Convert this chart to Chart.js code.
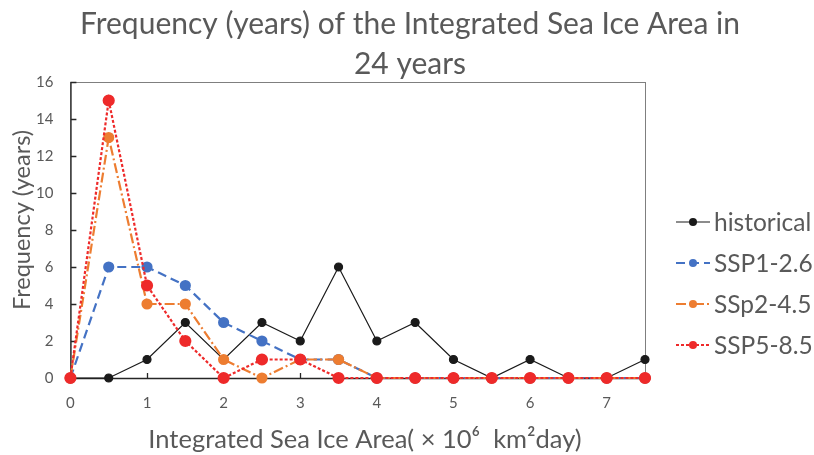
<!DOCTYPE html>
<html>
<head>
<meta charset="utf-8">
<script src="https://cdn.jsdelivr.net/npm/chart.js@4"></script>
<style>
  html, body { margin: 0; padding: 0; background: #fff; }
  #wrap { width: 814px; height: 455px; }
</style>
</head>
<body>
<div id="wrap"><canvas id="chart" width="814" height="455"></canvas></div>
<script>
// x positions (integrated sea ice area, x10^6 km2 day)
const areaBins = [0, 0.5, 1, 1.5, 2, 2.5, 3, 3.5, 4, 4.5, 5, 5.5, 6, 6.5, 7, 7.5];
const xTickValues = [0, 1, 2, 3, 4, 5, 6, 7];
const yTickValues = [0, 2, 4, 6, 8, 10, 12, 14, 16];

// frequency in years
const historical = [0, 0, 1, 3, 1, 3, 2, 6, 2, 3, 1, 0, 1, 0, 0, 1];
const ssp126 = [0, 6, 6, 5, 3, 2, 1, 1, 0, 0, 0, 0, 0, 0, 0, 0];
const ssp245 = [0, 13, 4, 4, 1, 0, 1, 1, 0, 0, 0, 0, 0, 0, 0, 0];
const ssp585 = [0, 15, 5, 2, 0, 1, 1, 0, 0, 0, 0, 0, 0, 0, 0, 0];

const seriesNames = ['historical', 'SSP1-2.6', 'SSp2-4.5', 'SSP5-8.5'];
const titleLines = ['Frequency (years) of the Integrated Sea Ice Area in', '24 years'];
const xTitle = 'Integrated Sea Ice Area( × 10⁶  km²day)';
const yTitle = 'Frequency (years)';

const FONT = 'Lato, "Noto Sans", sans-serif';
const TEXT = '#595959';

function toPoints(arr) {
    return areaBins.map((x, i) => ({ x: x, y: arr[i] }));
}

// plot box + inside tick marks
const frame = {
    id: 'frame',
    beforeDatasetsDraw(chart) {
        const { ctx, chartArea: a, scales } = chart;
        ctx.save();
        ctx.lineWidth = 1;
        ctx.strokeStyle = '#7f7f7f';
        ctx.strokeRect(a.left + 0.5, a.top + 0.5, a.right - a.left, a.bottom - a.top);
        ctx.strokeStyle = '#262626';
        ctx.lineWidth = 1.3;
        ctx.beginPath();
        ctx.moveTo(a.left + 0.5, a.top);
        ctx.lineTo(a.left + 0.5, a.bottom + 0.5);
        ctx.lineTo(a.right, a.bottom + 0.5);
        xTickValues.forEach(v => {
            const px = Math.round(scales.x.getPixelForValue(v)) + 0.5;
            ctx.moveTo(px, a.bottom);
            ctx.lineTo(px, a.bottom - 5);
        });
        yTickValues.forEach(v => {
            const py = Math.round(scales.y.getPixelForValue(v)) + 0.5;
            ctx.moveTo(a.left, py);
            ctx.lineTo(a.left + 6, py);
        });
        ctx.stroke();
        ctx.restore();
    }
};

// titles and legend with line + marker samples
const texts = {
    id: 'texts',
    afterDraw(chart) {
        const { ctx } = chart;
        ctx.save();
        ctx.fillStyle = TEXT;
        ctx.textAlign = 'center';
        ctx.textBaseline = 'middle';
        ctx.font = '30px ' + FONT;
        ctx.fillText(titleLines[0], 410, 24);
        ctx.fillText(titleLines[1], 410, 64);

        ctx.font = '25.5px ' + FONT;
        ctx.fillText(xTitle, 365, 440);

        ctx.save();
        ctx.translate(22, 220);
        ctx.rotate(-Math.PI / 2);
        ctx.font = '23.5px ' + FONT;
        ctx.fillText(yTitle, 0, 0);
        ctx.restore();

        ctx.textAlign = 'left';
        ctx.font = '24.5px ' + FONT;
        chart.data.datasets.forEach((ds, i) => {
            const y = 222 + i * 41;
            ctx.strokeStyle = ds.borderColor;
            ctx.lineWidth = ds.borderWidth;
            ctx.setLineDash(ds.borderDash || []);
            ctx.beginPath();
            ctx.moveTo(676, y);
            ctx.lineTo(710, y);
            ctx.stroke();
            ctx.setLineDash([]);
            ctx.fillStyle = ds.pointBackgroundColor;
            ctx.beginPath();
            ctx.arc(693, y, 4, 0, Math.PI * 2);
            ctx.fill();
            ctx.fillStyle = TEXT;
            ctx.fillText(ds.label, 714, y + 1);
        });
        ctx.restore();
    }
};

new Chart(document.getElementById('chart'), {
    type: 'line',
    data: {
        datasets: [
            {
                label: seriesNames[0], data: toPoints(historical),
                borderColor: '#1a1a1a', pointBackgroundColor: '#1a1a1a', pointBorderColor: '#1a1a1a',
                borderWidth: 1.2, pointRadius: 4, order: 4
            },
            {
                label: seriesNames[1], data: toPoints(ssp126),
                borderColor: '#4472C4', pointBackgroundColor: '#4472C4', pointBorderColor: '#4472C4',
                borderWidth: 2.2, borderDash: [9, 5], pointRadius: 4.5, order: 3
            },
            {
                label: seriesNames[2], data: toPoints(ssp245),
                borderColor: '#ED7D31', pointBackgroundColor: '#ED7D31', pointBorderColor: '#ED7D31',
                borderWidth: 2.2, borderDash: [10, 3, 2, 3], pointRadius: 4.5, order: 2
            },
            {
                label: seriesNames[3], data: toPoints(ssp585),
                borderColor: '#EE2A2A', pointBackgroundColor: '#EE2A2A', pointBorderColor: '#EE2A2A',
                borderWidth: 2.2, borderDash: [3, 2], pointRadius: 5, order: 1
            }
        ]
    },
    options: {
        responsive: false,
        animation: false,
        clip: false,
        layout: { padding: { top: 82, right: 169, bottom: 27, left: 19 } },
        elements: { line: { tension: 0 }, point: { borderWidth: 0 } },
        plugins: {
            legend: { display: false },
            tooltip: { enabled: false },
            title: { display: false }
        },
        scales: {
            x: {
                type: 'linear', min: 0, max: 7.5,
                afterBuildTicks(scale) { scale.ticks = xTickValues.map(v => ({ value: v })); },
                grid: { display: false, drawTicks: false },
                border: { display: false },
                ticks: { color: TEXT, font: { family: FONT, size: 15 }, padding: 16 }
            },
            y: {
                min: 0, max: 16,
                afterBuildTicks(scale) { scale.ticks = yTickValues.map(v => ({ value: v })); },
                grid: { display: false, drawTicks: false },
                border: { display: false },
                ticks: { color: TEXT, font: { family: FONT, size: 15 }, padding: 17 }
            }
        }
    },
    plugins: [frame, texts]
});
</script>
</body>
</html>
